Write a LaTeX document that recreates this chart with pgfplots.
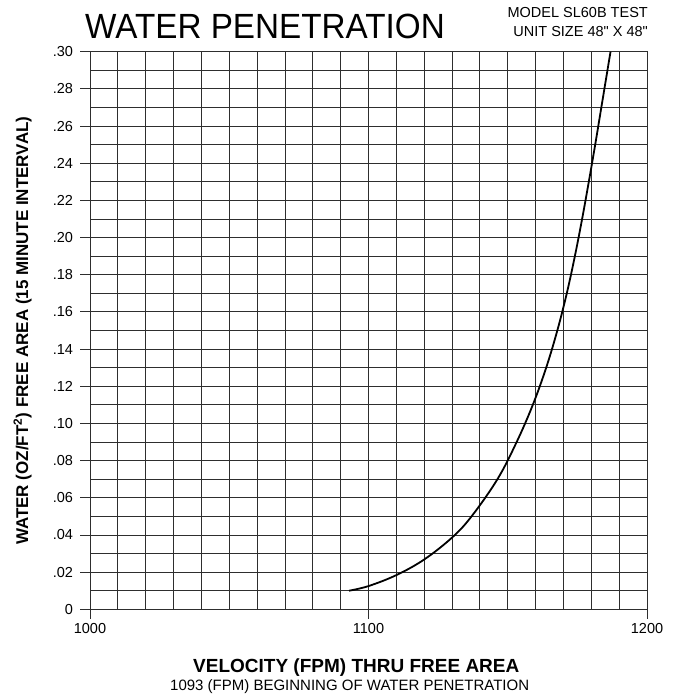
\documentclass[border=0pt]{standalone}
\usepackage{fontspec}
\setmainfont{Liberation Sans}[Ligatures=TeXOff]
\usepackage{pgfplots}
\pgfplotsset{compat=1.18}
\definecolor{gridc}{HTML}{2E2E2E}
\begin{document}
\begin{tikzpicture}
\useasboundingbox (-90pt,-86.7pt) rectangle (583pt,609.3pt);
\begin{axis}[
  at={(0pt,0pt)}, anchor=south west,
  scale only axis, width=557pt, height=557.6pt,
  xmin=1000, xmax=1200, ymin=0, ymax=0.30,
  xtick={1000,1100,1200},
  xticklabels={1000,1100,1200},
  minor xtick={1010,1020,1030,1040,1050,1060,1070,1080,1090,1110,1120,1130,1140,1150,1160,1170,1180,1190},
  ytick={0,0.02,0.04,0.06,0.08,0.10,0.12,0.14,0.16,0.18,0.20,0.22,0.24,0.26,0.28,0.30},
  yticklabels={0,.02,.04,.06,.08,.10,.12,.14,.16,.18,.20,.22,.24,.26,.28,.30},
  minor ytick={0.01,0.03,0.05,0.07,0.09,0.11,0.13,0.15,0.17,0.19,0.21,0.23,0.25,0.27,0.29},
  grid=both,
  major grid style={gridc, line width=0.9pt},
  minor grid style={gridc, line width=0.9pt},
  major tick length=9.5pt, minor tick length=0pt,
  tick align=outside,
  xtick pos=bottom, ytick pos=left,
  tick style={gridc, line width=0.9pt},
  axis line style={gridc, line width=0.9pt},
  ticklabel style={font=\fontsize{14.5}{14.5}\selectfont, text=black},
  /pgf/number format/assume math mode=true,
  yticklabel style={xshift=-4pt},
  xticklabel style={yshift=-1pt},
]
\addplot[black, line width=1.8pt, smooth, tension=0.6] coordinates {
(1093,0.010) (1100,0.0125) (1110,0.0184) (1120,0.0268) (1130,0.0386)
(1137,0.050) (1146.3,0.070) (1153.2,0.090) (1159.0,0.110)
(1163.8,0.130) (1167.8,0.150) (1171.2,0.170) (1174.1,0.190)
(1176.7,0.210) (1179.1,0.230) (1181.4,0.250) (1183.6,0.270)
(1185.8,0.290) (1186.9,0.300)
};
\end{axis}
\node[anchor=base west, inner sep=0pt, font=\fontsize{35}{35}\selectfont, xscale=0.95] at (-5pt,570.3pt) {WATER PENETRATION};
\node[anchor=base east, inner sep=0pt, font=\fontsize{14.5}{14.5}\selectfont] at (558pt,591.3pt) {MODEL SL60B TEST};
\node[anchor=base east, inner sep=0pt, font=\fontsize{14.5}{14.5}\selectfont] at (558pt,572.3pt) {UNIT SIZE 48" X 48"};
\node[anchor=base west, inner sep=0pt, font=\fontsize{19}{19}\bfseries] at (103pt,-62.7pt) {VELOCITY (FPM) THRU FREE AREA};
\node[anchor=base west, inner sep=0pt, font=\fontsize{15}{15}\selectfont] at (80pt,-80.7pt) {1093 (FPM) BEGINNING OF WATER PENETRATION};
\node[anchor=center, inner sep=0pt, rotate=90, font=\fontsize{17}{17}\bfseries] at (-67.5pt,278.5pt) {WATER (OZ/FT\textsuperscript{2}) FREE AREA (15 MINUTE INTERVAL)};
\end{tikzpicture}
\end{document}
